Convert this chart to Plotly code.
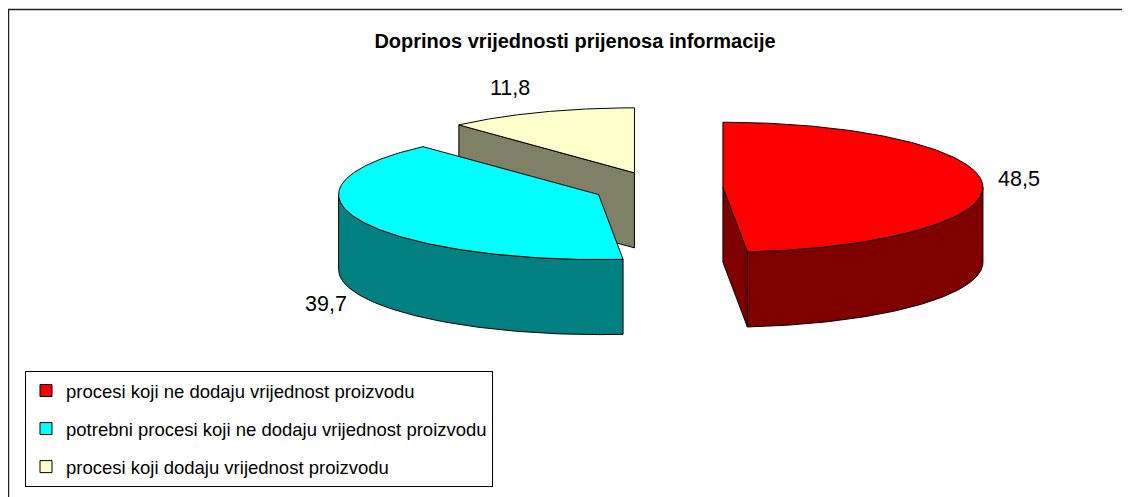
import numpy as np
import plotly.graph_objects as go

# ---------------- data ----------------
categories = [
    "procesi koji ne dodaju vrijednost proizvodu",
    "potrebni procesi koji ne dodaju vrijednost proizvodu",
    "procesi koji dodaju vrijednost proizvodu",
]
values = [48.5, 39.7, 11.8]
value_labels = ["48,5", "39,7", "11,8"]
title_text = "Doprinos vrijednosti prijenosa informacije"

# ---------------- styles / geometry (screen pixels) ----------------
top_colors = ["#FF0000", "#00FFFF", "#FFFFCC"]
side_colors = ["#800000", "#008080", "#808066"]
PAGE_W, PAGE_H = 1130, 497
OFF = 8                    # page body margin
W, H = PAGE_W - OFF, PAGE_H - OFF
CX, CY = 658, 188          # pie centre (top surface), screen px
RX, RY = 260, 65           # ellipse radii of top surface
DEPTH = 75                 # thickness of the pie
EXPLODE = 0.25             # explosion as fraction of radius
FONT = "Liberation Sans, Arial, sans-serif"

# label placement styles: (use bottom ellipse?, xanchor, yanchor, xshift, yshift)
label_style = [
    (False, "left", "middle", 13, 5),
    (True, "right", "middle", -12, -8),
    (False, "right", "middle", -8, 24),
]

total = float(sum(values))
bounds = np.concatenate([[0.0], np.cumsum(values) / total * 360.0])


def ell(cx, cy, th_deg, dz=0.0):
    t = np.radians(th_deg)
    return cx + RX * np.sin(t), cy - RY * np.cos(t) + dz


def px(x):
    return (x - OFF) / W


def py(y):
    return 1 - (y - OFF) / H


fig = go.Figure()

slices = []
for i, v in enumerate(values):
    a, b = bounds[i], bounds[i + 1]
    mid = (a + b) / 2
    sx = CX + EXPLODE * RX * np.sin(np.radians(mid))
    sy = CY - EXPLODE * RY * np.cos(np.radians(mid))
    slices.append((i, a, b, mid, sx, sy))


def poly(xs, ys, color):
    fig.add_trace(go.Scatter(
        x=list(xs) + [xs[0]], y=list(ys) + [ys[0]], mode="lines",
        fill="toself", fillcolor=color,
        line=dict(color="black", width=1),
        hoverinfo="skip", showlegend=False))


# draw back-to-front
for (i, a, b, mid, sx, sy) in sorted(slices, key=lambda s: s[5]):
    side = side_colors[i]
    top = top_colors[i]

    # radial faces
    for th, normal in ((a, a - 90), (b, b + 90)):
        if np.cos(np.radians(normal)) < -1e-6:
            ex, ey = ell(sx, sy, th)
            poly([sx, ex, ex, sx], [sy, ey, ey + DEPTH, sy + DEPTH], side)

    # outer curved face (front half: 90..270 deg)
    lo, hi = max(a, 90.0), min(b, 270.0)
    if hi > lo:
        th = np.linspace(lo, hi, 120)
        tx, ty = ell(sx, sy, th)
        bx, by = ell(sx, sy, th[::-1], DEPTH)
        poly(np.concatenate([tx, bx]), np.concatenate([ty, by]), side)

    # top face
    th = np.linspace(a, b, 200)
    tx, ty = ell(sx, sy, th)
    poly(np.concatenate([[sx], tx]), np.concatenate([[sy], ty]), top)

# value labels
annotations = []
for (i, a, b, mid, sx, sy) in slices:
    use_bottom, xa, ya, xs, ys = label_style[i]
    lx, ly = ell(sx, sy, mid, DEPTH if use_bottom else 0.0)
    annotations.append(dict(
        x=lx, y=ly, xref="x", yref="y", text=value_labels[i],
        showarrow=False, xanchor=xa, yanchor=ya, xshift=xs, yshift=ys,
        font=dict(family=FONT, size=21.5, color="black")))

# legend entries
for i, cat in enumerate(categories):
    fig.add_trace(go.Scatter(
        x=[None], y=[None], mode="markers", name=cat,
        legendgroup=f"g{i}",
        marker=dict(symbol="square", size=12, color=top_colors[i],
                    line=dict(color="black", width=1))))

fig.update_layout(
    width=W, height=H,
    margin=dict(l=0, r=0, t=0, b=0),
    paper_bgcolor="white", plot_bgcolor="white",
    xaxis=dict(range=[OFF, PAGE_W], visible=False, fixedrange=True),
    yaxis=dict(range=[PAGE_H, OFF], visible=False, fixedrange=True),
    title=dict(text=title_text, x=px(575), y=py(41),
               xanchor="center", yanchor="middle",
               font=dict(family=FONT, size=20, color="black", weight="bold")),
    showlegend=True,
    legend=dict(x=px(25), y=py(371), xanchor="left", yanchor="top",
                bgcolor="white", bordercolor="black", borderwidth=1,
                font=dict(family=FONT, size=18.5, color="black"),
                traceorder="grouped", tracegroupgap=11),
    annotations=annotations,
    shapes=[dict(type="rect", xref="paper", yref="paper",
                 x0=px(8.5), x1=px(PAGE_W + 20), y0=py(PAGE_H + 20), y1=py(9.5),
                 line=dict(color="#222222", width=1.5), fillcolor="rgba(0,0,0,0)",
                 layer="below")],
)

fig.write_html("out.html")
